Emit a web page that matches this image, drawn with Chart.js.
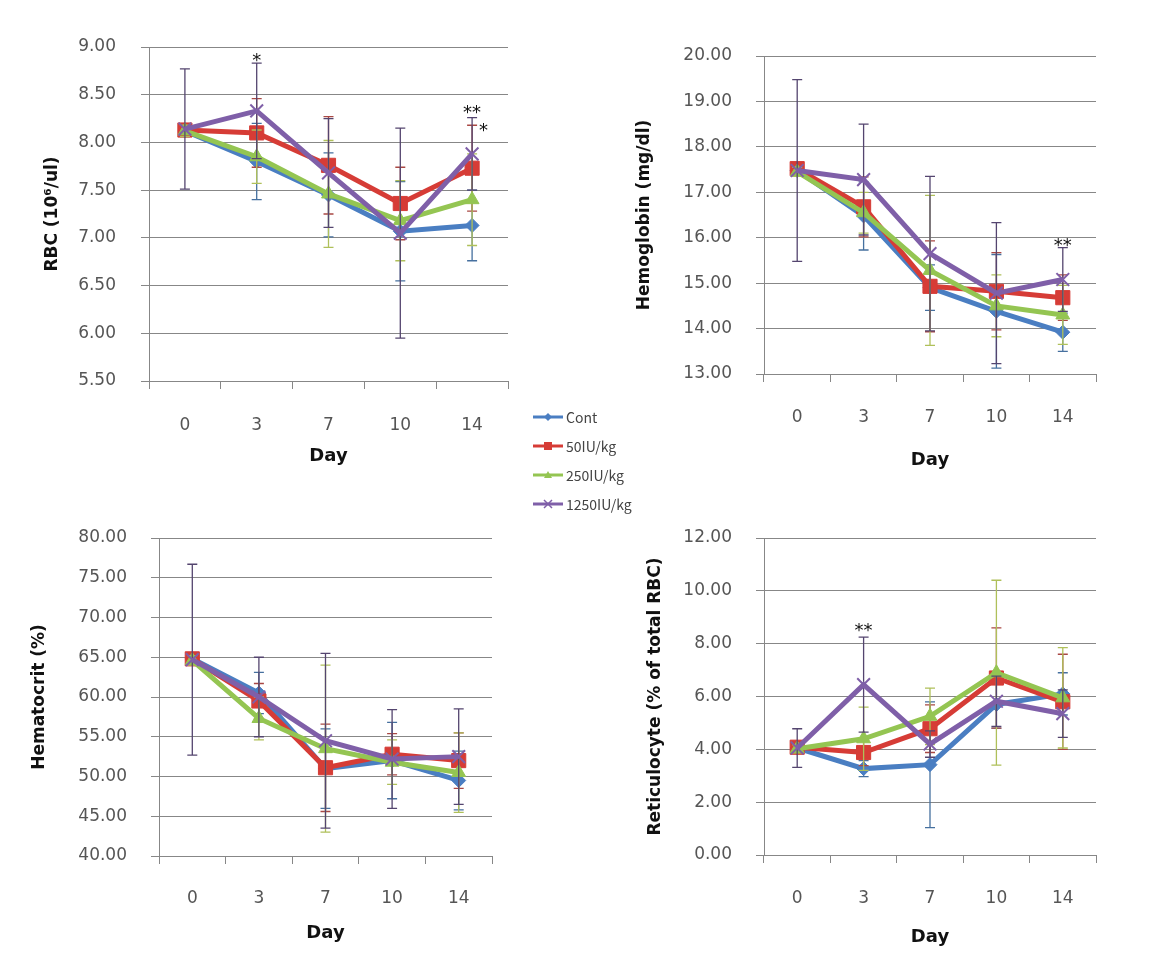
<!DOCTYPE html>
<html>
<head>
<meta charset="utf-8">
<script src="https://cdn.jsdelivr.net/npm/chart.js@4"></script>
<style>
  html, body { margin: 0; padding: 0; background: #fff; }
  #page { position: relative; width: 1162px; height: 961px; overflow: hidden; }
  canvas { position: absolute; }
  #legend { position: absolute; left: 533px; top: 402px; z-index: 5;
            font-family: 'Noto Sans CJK KR', sans-serif; font-size: 14px; color: #444; }
  .item { display: flex; align-items: center; height: 29px; }
  .item svg { margin-right: 2px; }
</style>
</head>
<body>
<div id="page">
  <canvas id="rbc" width="540" height="490" style="left:0;top:0"></canvas>
  <canvas id="hb" width="602" height="490" style="left:560px;top:0"></canvas>
  <canvas id="hct" width="540" height="471" style="left:0;top:490px"></canvas>
  <canvas id="ret" width="602" height="471" style="left:560px;top:490px"></canvas>
  <div id="legend"></div>
</div>
<script>
// categories
const days = ['0', '3', '7', '10', '14'];
const groups = ['Cont', '50IU/kg', '250IU/kg', '1250IU/kg'];

// RBC (10^6/ul)
const rbcCont = [8.12, 7.80, 7.45, 7.07, 7.13];
const rbc50 = [8.13, 8.10, 7.76, 7.36, 7.73];
const rbc250 = [8.12, 7.85, 7.46, 7.18, 7.40];
const rbc1250 = [8.14, 8.33, 7.68, 7.05, 7.88];
const rbcContSd = [0.06, 0.40, 0.44, 0.52, 0.37];
const rbc50Sd = [0.06, 0.36, 0.51, 0.38, 0.45];
const rbc250Sd = [0.06, 0.28, 0.56, 0.42, 0.48];
const rbc1250Sd = [0.63, 0.50, 0.57, 1.10, 0.38];

// Hemoglobin (mg/dl)
const hbCont = [17.48, 16.48, 14.90, 14.38, 13.92];
const hb50 = [17.52, 16.68, 14.93, 14.82, 14.68];
const hb250 = [17.45, 16.55, 15.28, 14.50, 14.30];
const hb1250 = [17.48, 17.28, 15.65, 14.78, 15.08];
const hbContSd = [0.10, 0.75, 0.50, 1.25, 0.42];
const hb50Sd = [0.10, 0.66, 1.00, 0.85, 0.50];
const hb250Sd = [0.10, 0.45, 1.65, 0.68, 0.65];
const hb1250Sd = [2.00, 1.22, 1.70, 1.55, 0.70];

// Hematocrit (%)
const hctCont = [64.8, 60.5, 51.0, 52.0, 49.5];
const hct50 = [64.8, 59.5, 51.1, 52.8, 52.0];
const hct250 = [64.6, 57.3, 53.5, 51.8, 50.5];
const hct1250 = [64.7, 60.0, 54.5, 52.2, 52.5];
const hctContSd = [0.6, 2.6, 5.0, 4.8, 3.7];
const hct50Sd = [0.6, 2.2, 5.5, 2.6, 3.5];
const hct250Sd = [0.6, 2.7, 10.5, 2.8, 5.0];
const hct1250Sd = [12.0, 5.0, 11.0, 6.2, 6.0];

// Reticulocyte (% of total RBC)
const retCont = [4.05, 3.27, 3.42, 5.70, 6.10];
const ret50 = [4.08, 3.88, 4.78, 6.70, 5.80];
const ret250 = [4.02, 4.40, 5.25, 6.90, 5.95];
const ret1250 = [4.05, 6.45, 4.20, 5.82, 5.35];
const retContSd = [0.15, 0.30, 2.38, 0.90, 0.80];
const ret50Sd = [0.15, 0.50, 0.90, 1.90, 1.80];
const ret250Sd = [0.15, 1.20, 1.07, 3.50, 1.90];
const ret1250Sd = [0.73, 1.80, 0.50, 0.95, 0.90];

// significance marks: category index, value, text
const rbcSig = [{i: 1, v: 8.85, t: '*'}, {i: 4, v: 8.30, t: '**'}, {i: 4, v: 8.12, t: '*', side: true}];
const hbSig = [{i: 4, v: 15.80, t: '**'}];
const hctSig = [];
const retSig = [{i: 1, v: 8.45, t: '**'}];

const colors = ['#4A7EC2', '#D63C36', '#94C552', '#7F5FA8'];
const barColors = ['#46709F', '#A94844', '#AFC05A', '#54456F'];
const styles = [
  {pointStyle: 'rectRot', pointRadius: 7, pointBorderWidth: 1, order: 3},
  {pointStyle: 'rect', pointRadius: 10, pointBorderWidth: 1, order: 2},
  {pointStyle: 'triangle', pointRadius: 8, pointBorderWidth: 1, order: 1},
  {pointStyle: 'crossRot', pointRadius: 9, pointBorderWidth: 2, order: 0}
];
const gridColor = '#878787';
const fontFam = "'DejaVu Sans', sans-serif";

// error bars drawn just before each series, like the spreadsheet does
const errorBars = {
  id: 'errorBars',
  beforeDatasetDraw(chart, args) {
    const ds = chart.data.datasets[args.index];
    const y = chart.scales.y, ctx = chart.ctx;
    ctx.save();
    ctx.strokeStyle = barColors[args.index];
    ctx.lineWidth = 1.3;
    args.meta.data.forEach((pt, i) => {
      const top = y.getPixelForValue(ds.data[i] + ds.errors[i]);
      const bot = y.getPixelForValue(ds.data[i] - ds.errors[i]);
      ctx.beginPath();
      ctx.moveTo(pt.x, top); ctx.lineTo(pt.x, bot);
      ctx.moveTo(pt.x - 5, top); ctx.lineTo(pt.x + 5, top);
      ctx.moveTo(pt.x - 5, bot); ctx.lineTo(pt.x + 5, bot);
      ctx.stroke();
    });
    ctx.restore();
  }
};

function sigMarks(items) {
  return {
    id: 'sigMarks',
    afterDatasetsDraw(chart) {
      const ctx = chart.ctx;
      ctx.save();
      ctx.fillStyle = '#111';
      ctx.font = '18px ' + fontFam;
      ctx.textBaseline = 'middle';
      items.forEach(m => {
        const x = chart.scales.x.getPixelForValue(m.i);
        const y = chart.scales.y.getPixelForValue(m.v);
        ctx.textAlign = m.side ? 'left' : 'center';
        ctx.fillText(m.t, m.side ? x + 7 : x, y);
      });
      ctx.restore();
    }
  };
}

function makeChart(id, p) {
  return new Chart(document.getElementById(id), {
    type: 'line',
    data: {
      labels: days,
      datasets: p.series.map((vals, k) => Object.assign({
        label: groups[k],
        data: vals,
        errors: p.errors[k],
        borderColor: colors[k],
        backgroundColor: colors[k],
        borderWidth: 5,
        tension: 0
      }, styles[k]))
    },
    options: {
      responsive: false,
      animation: false,
      layout: {padding: {left: 0, top: p.top, right: p.right, bottom: 0}},
      plugins: {legend: {display: false}, tooltip: {enabled: false}},
      scales: {
        x: {
          offset: true,
          grid: {offset: true, drawOnChartArea: false, color: gridColor, tickLength: 8},
          border: {color: gridColor},
          ticks: {padding: p.xPad, color: '#555', font: {family: fontFam, size: 17}},
          title: {display: true, text: 'Day', color: '#111',
                  font: {family: fontFam, size: 18, weight: 'bold'},
                  padding: {top: 0, bottom: p.dayPad}},
          afterFit: s => { s.height = p.xHeight; }
        },
        y: {
          min: p.min, max: p.max,
          grid: {color: gridColor, tickLength: 8},
          border: {color: gridColor},
          ticks: {stepSize: p.step, padding: p.yPad, color: '#555',
                  font: {family: fontFam, size: 17},
                  callback: v => v.toFixed(2)},
          title: {display: true, text: p.title, color: '#111',
                  font: {family: fontFam, size: 17, weight: 'bold'},
                  padding: {top: p.titlePad, bottom: 0}},
          afterFit: s => { s.width = p.yWidth; }
        }
      }
    },
    plugins: [errorBars, sigMarks(p.sig)]
  });
}

makeChart('rbc', {
  series: [rbcCont, rbc50, rbc250, rbc1250],
  errors: [rbcContSd, rbc50Sd, rbc250Sd, rbc1250Sd],
  sig: rbcSig, title: 'RBC (10⁶/ul)', min: 5.5, max: 9, step: 0.5,
  top: 47, right: 32, yWidth: 149, xHeight: 109,
  titlePad: 42, yPad: 25, xPad: 26, dayPad: 23
});
makeChart('hb', {
  series: [hbCont, hb50, hb250, hb1250],
  errors: [hbContSd, hb50Sd, hb250Sd, hb1250Sd],
  sig: hbSig, title: 'Hemoglobin (mg/dl)', min: 13, max: 20, step: 1,
  top: 56, right: 66, yWidth: 204, xHeight: 116,
  titlePad: 74, yPad: 24, xPad: 25, dayPad: 19
});
makeChart('hct', {
  series: [hctCont, hct50, hct250, hct1250],
  errors: [hctContSd, hct50Sd, hct250Sd, hct1250Sd],
  sig: hctSig, title: 'Hematocrit (%)', min: 40, max: 80, step: 5,
  top: 48, right: 48, yWidth: 159, xHeight: 105,
  titlePad: 29, yPad: 24, xPad: 24, dayPad: 17
});
makeChart('ret', {
  series: [retCont, ret50, ret250, ret1250],
  errors: [retContSd, ret50Sd, ret250Sd, ret1250Sd],
  sig: retSig, title: 'Reticulocyte (% of total RBC)', min: 0, max: 12, step: 2,
  top: 48, right: 66, yWidth: 204, xHeight: 106,
  titlePad: 85, yPad: 24, xPad: 25, dayPad: 13
});

// shared legend
const markSvg = [
  '<path d="M15 2 L19 6 L15 10 L11 6 Z" fill="#4A7EC2"/>',
  '<rect x="11" y="2" width="8" height="8" fill="#D63C36"/>',
  '<path d="M15 2 L19 9 L11 9 Z" fill="#94C552"/>',
  '<path d="M11 2 L19 10 M19 2 L11 10" stroke="#7F5FA8" stroke-width="1.5"/>'
];
document.getElementById('legend').innerHTML = groups.map((g, k) =>
  '<div class="item"><svg width="31" height="12">' +
  '<line x1="0" y1="6" x2="30" y2="6" stroke="' + colors[k] + '" stroke-width="3"/>' +
  markSvg[k] + '</svg><span>' + g + '</span></div>').join('');
</script>
</body>
</html>
